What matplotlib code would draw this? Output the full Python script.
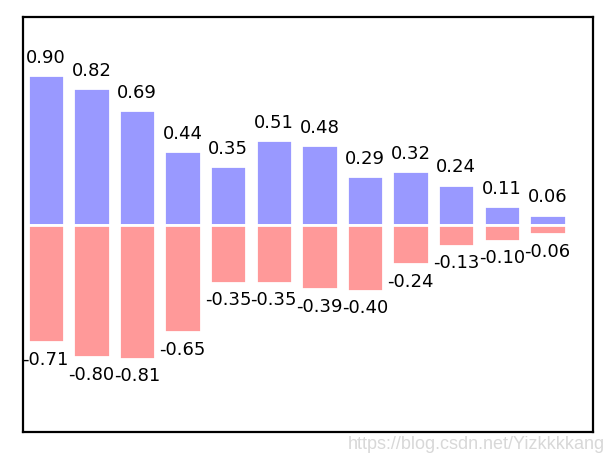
import numpy as np
import matplotlib
matplotlib.use("Agg")
import matplotlib.pyplot as plt

n = 12
X = np.arange(n)
Y1 = [0.90, 0.82, 0.69, 0.44, 0.35, 0.51, 0.48, 0.29, 0.32, 0.24, 0.11, 0.06]
Y2 = [0.71, 0.80, 0.81, 0.65, 0.35, 0.35, 0.39, 0.40, 0.24, 0.13, 0.10, 0.06]

fig = plt.figure(figsize=(6.14, 4.58), dpi=100)
ax = fig.add_axes([23/614, 26/458, 570/614, 415/458])

ax.bar(X, Y1, facecolor='#9999ff', edgecolor='white', width=0.8, linewidth=2)
ax.bar(X, [-v for v in Y2], facecolor='#ff9999', edgecolor='white', width=0.8, linewidth=2)

for x, y in zip(X, Y1):
    ax.text(x, y + 0.05, '%.2f' % y, ha='center', va='bottom', fontsize=13)
for x, y in zip(X, Y2):
    ax.text(x, -y - 0.05, '%.2f' % -y, ha='center', va='top', fontsize=13)

ax.set_xlim(-0.5, n)
ax.set_ylim(-1.25, 1.25)
ax.set_xticks([])
ax.set_yticks([])
for s in ax.spines.values():
    s.set_linewidth(1.6)

fig.text(0.985, 0.012, 'https://blog.csdn.net/Yizkkkkang', ha='right', va='bottom',
         fontsize=13, color='#d8d8d8', family='Liberation Sans')

fig.savefig('out.png', dpi=100)
